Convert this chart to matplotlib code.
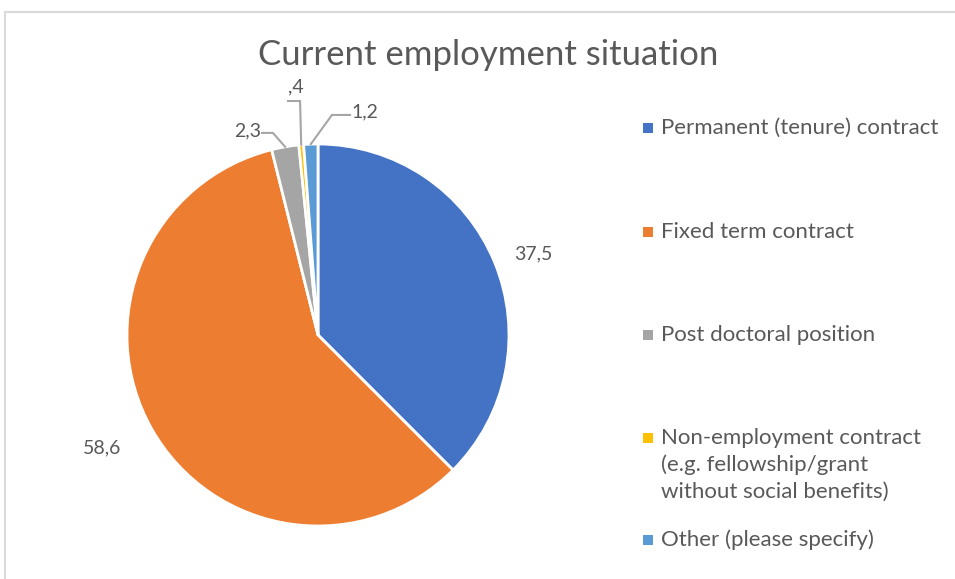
import numpy as np
import matplotlib.pyplot as plt
from matplotlib.patches import Rectangle

plt.rcParams['font.family'] = ['Lato', 'DejaVu Sans']

# data
categories = ['Permanent (tenure) contract', 'Fixed term contract',
              'Post doctoral position',
              'Non-employment contract\n(e.g. fellowship/grant\nwithout social benefits)',
              'Other (please specify)']
values = [37.5, 58.6, 2.3, 0.4, 1.2]
value_labels = ['37,5', '58,6', '2,3', ',4', '1,2']
colors = ['#4472C4', '#ED7D31', '#A5A5A5', '#FFC000', '#5B9BD5']

text_col = '#595959'
line_col = '#A6A6A6'

W, H = 955, 579
fig = plt.figure(figsize=(W / 100, H / 100), dpi=100)

# chart frame
fig.patches.append(Rectangle((5 / W, -0.1), 1.2, (H - 12) / H + 0.1,
                             transform=fig.transFigure, fill=False,
                             edgecolor='#D9D9D9', linewidth=1.5))

# pie axes: center (318, 335) px, radius 191 px
cx, cy, r = 318, 335, 191
ax = fig.add_axes([(cx - r) / W, (H - cy - r) / H, 2 * r / W, 2 * r / H])
wedges, _ = ax.pie(values, colors=colors, startangle=90, counterclock=False,
                   wedgeprops=dict(edgecolor='white', linewidth=2))
ax.set_xlim(-1, 1)
ax.set_ylim(-1, 1)
ax.set_aspect('equal')
ax.axis('off')

# data labels for the two big slices (distance, vertical nudge)
big_pos = [(1.22, -0.04), (1.30, 0.05)]
for i, w in enumerate(wedges[:2]):
    mid = np.deg2rad((w.theta1 + w.theta2) / 2)
    ex, ey = np.cos(mid), np.sin(mid)
    dist, dy = big_pos[i]
    ax.text(dist * ex, dist * ey + dy, value_labels[i], ha='center', va='center',
            fontsize=14, color=text_col)

# leader lines for the small slices (elbow + text anchor in data units)
leaders = {
    2: dict(pts=[(-0.293, 1.058), (-0.236, 1.058)], txt=(-0.30, 1.07), ha='right'),
    3: dict(pts=[(-0.157, 1.225), (-0.094, 1.225)], txt=(-0.115, 1.30), ha='center'),
    4: dict(pts=[(0.168, 1.152), (0.073, 1.152)], txt=(0.175, 1.17), ha='left'),
}
for i, d in leaders.items():
    w = wedges[i]
    mid = np.deg2rad((w.theta1 + w.theta2) / 2)
    ex, ey = np.cos(mid), np.sin(mid)
    xs = [p[0] for p in d['pts']] + [ex * 1.0]
    ys = [p[1] for p in d['pts']] + [ey * 1.0]
    ax.plot(xs, ys, color=line_col, linewidth=1.5, clip_on=False,
            solid_joinstyle='miter')
    ax.text(d['txt'][0], d['txt'][1], value_labels[i], ha=d['ha'], va='center',
            fontsize=14, color=text_col)

# title
fig.text(488 / W, 1 - 55 / H, 'Current employment situation', ha='center',
         va='center', fontsize=25, color=text_col)

# legend
leg_y = [128, 232, 335, 438, 540]
for lab, col, y in zip(categories, colors, leg_y):
    fig.patches.append(Rectangle((643 / W, 1 - (y + 5) / H), 10 / W, 10 / H,
                                 transform=fig.transFigure, facecolor=col,
                                 edgecolor='none'))
    if '\n' in lab:
        fig.text(661 / W, 1 - (y - 10) / H, lab, ha='left', va='top',
                 fontsize=16, color=text_col, linespacing=1.4)
    else:
        fig.text(661 / W, 1 - y / H, lab, ha='left', va='center',
                 fontsize=16, color=text_col)

fig.savefig('out.png', dpi=100)
